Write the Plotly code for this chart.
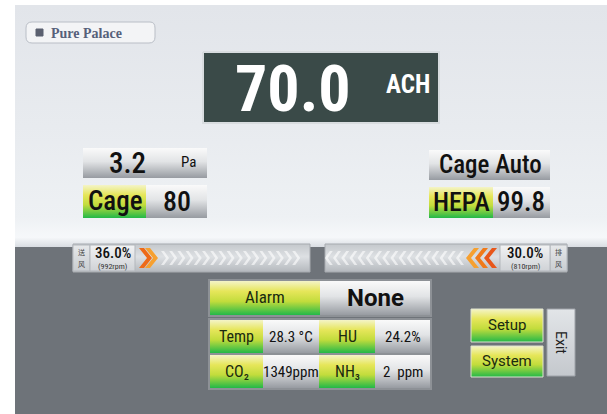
import plotly.graph_objects as go

# ---------------- data ----------------
brand = "Pure Palace"
ach_value = 70.0
ach_unit = "ACH"
pressure_value = 3.2
pressure_unit = "Pa"
cage_label = "Cage"
cage_value = 80
mode_label = "Cage Auto"
hepa_label = "HEPA"
hepa_value = 99.8
fan_side_labels = [["送", "风"], ["排", "风"]]
fan_percent = [36.0, 30.0]
fan_rpm = [992, 810]
alarm_label = "Alarm"
alarm_value = "None"
sensor_labels = ["Temp", "HU", "CO₂", "NH₃"]
sensor_values = ["28.3", "24.2", "1349", "2"]
sensor_units = [" °C", "%", "ppm", "  ppm"]
button_labels = ["Setup", "System", "Exit"]

COND = "Roboto Condensed, Liberation Sans Narrow, DejaVu Sans Condensed, Roboto, sans-serif"
ROUND = "Roboto, DejaVu Sans, sans-serif"
fig = go.Figure()

GREEN = [[0, '#f4f4c8'], [0.3, '#e6e65a'], [0.6, '#c2dc3c'], [1, '#22b848']]
GRAY = [[0, '#fafafa'], [0.45, '#e2e4e6'], [1, '#979ba1']]
BAR = [[0, '#c4c8cc'], [0.45, '#dde0e3'], [1, '#b4b8bd']]


def grad_box(x0, y0, x1, y1, scale, line=None, lw=1):
    fig.add_trace(go.Scatter(
        x=[x0, x1, x1, x0, x0], y=[y0, y0, y1, y1, y0], mode='lines', fill='toself',
        line=dict(width=lw if line else 0, color=line or 'rgba(0,0,0,0)'),
        fillgradient=dict(type='vertical', colorscale=scale, start=y0, stop=y1),
        hoverinfo='skip', showlegend=False))


def solid_box(x0, y0, x1, y1, fill, line=None, lw=1):
    fig.add_trace(go.Scatter(
        x=[x0, x1, x1, x0, x0], y=[y0, y0, y1, y1, y0], mode='lines', fill='toself',
        fillcolor=fill, line=dict(width=lw if line else 0, color=line or 'rgba(0,0,0,0)'),
        hoverinfo='skip', showlegend=False))


def txt(x, y, s, size, color='#111', family=COND, xa='center', ya='middle', angle=0, weight='normal'):
    fig.add_annotation(x=x, y=y, text=s, showarrow=False, xanchor=xa, yanchor=ya,
                       textangle=angle, font=dict(size=size, color=color, family=family, weight=weight))


# backgrounds
grad_box(15, 5, 607, 247, [[0, '#e2e5ea'], [0.5, '#e8ebef'], [0.88, '#eef1f4'],
                           [0.96, '#f6f8fa'], [1, '#d9dde2']])
solid_box(15, 247, 607, 414, '#6e7379')

# brand tab
fig.add_shape(type='path',
              path='M 32 22 L 150 22 Q 155 22 155 28 L 155 37 Q 155 43 149 43 L 32 43 Q 26 43 26 37 L 26 28 Q 26 22 32 22 Z',
              fillcolor='#f3f4f6', line=dict(color='#b9bec6', width=1))
fig.add_shape(type='rect', x0=36, y0=29, x1=43, y1=36, fillcolor='#5b6070', line=dict(color='#5b6070', width=1))
txt(49, 33, brand, 14, '#56607a', 'Liberation Serif, DejaVu Serif, serif', xa='left', weight='bold')

# ACH display
solid_box(203, 52, 439, 123, '#3a4a48', '#d8dcdf', 2)
txt(293, 89, f"{ach_value:.1f}", 64, 'white', COND, weight='bold')
txt(408, 84, ach_unit, 25, 'white', COND, weight='bold')

# pressure box
grad_box(83, 148, 207, 178, GRAY)
txt(127, 163, f"{pressure_value}", 29, '#111', COND, weight=500)
txt(188, 162, pressure_unit, 15, '#111', COND)

# cage box
grad_box(83, 185, 146, 218, GREEN)
grad_box(146, 185, 207, 218, GRAY)
txt(115, 201, cage_label, 27, '#111', COND, weight=500)
txt(177, 201, f"{cage_value}", 28, '#111', COND, weight=500)

# mode box
grad_box(429, 150, 550, 180, GRAY)
txt(490, 164, mode_label, 25, '#111', COND, weight=500)

# HEPA box
grad_box(429, 187, 493, 218, GREEN)
grad_box(493, 187, 550, 218, GRAY)
txt(461, 202, hepa_label, 26, '#111', COND, weight=500)
txt(521, 202, f"{hepa_value}", 27, '#111', COND, weight=500)


# fan bars
def chevron(x, yc, w, h, t, color, direction=1):
    if direction == 1:
        pts = [(x, yc - h), (x + t, yc - h), (x + t + w, yc), (x + t, yc + h), (x, yc + h), (x + w, yc)]
    else:
        pts = [(x, yc - h), (x - t, yc - h), (x - t - w, yc), (x - t, yc + h), (x, yc + h), (x - w, yc)]
    p = 'M ' + ' L '.join(f'{a} {b}' for a, b in pts) + ' Z'
    fig.add_shape(type='path', path=p, fillcolor=color, line=dict(width=0))


fan_specs = [dict(x0=73, x1=310, lab=(73, 90), pct=(90, 135), arr=(135, 310), d=1),
             dict(x0=325, x1=567, lab=(550, 567), pct=(500, 550), arr=(325, 500), d=-1)]
for i, s in enumerate(fan_specs):
    grad_box(s['x0'], 244, s['x1'], 272, BAR, '#a7abb0')
    grad_box(s['lab'][0], 245, s['lab'][1], 271, [[0, '#e6e8ea'], [1, '#c9cdd1']], '#b3b7bc')
    grad_box(s['pct'][0], 245, s['pct'][1], 271, [[0, '#f2f3f4'], [1, '#cfd2d6']], '#b3b7bc')
    lc = sum(s['lab']) / 2
    txt(lc, 252, fan_side_labels[i][0], 7, '#444', 'Noto Sans CJK SC')
    txt(lc, 264, fan_side_labels[i][1], 7, '#444', 'Noto Sans CJK SC')
    txt(sum(s['pct']) / 2, 253, f"{fan_percent[i]:.1f}%", 15, '#111', COND, weight=500)
    txt(sum(s['pct']) / 2, 266, f"({fan_rpm[i]}rpm)", 8, '#333', COND)
    a0, a1 = s['arr']
    if s['d'] == 1:
        for k in range(17):
            chevron(a0 + 26 + k * 8.2, 258, 5, 7, 3, 'rgba(255,255,255,0.6)', 1)
        chevron(a0 + 4, 258, 8, 10, 5, '#ee6a18', 1)
        chevron(a0 + 10, 258, 8, 10, 5, '#f6a030', 1)
    else:
        for k in range(17):
            chevron(a1 - 36 - k * 8.2, 258, 5, 7, 3, 'rgba(255,255,255,0.6)', -1)
        chevron(a1 - 3, 258, 8, 10, 5, '#e8561a', -1)
        chevron(a1 - 12, 258, 8, 10, 5, '#f07a1a', -1)
        chevron(a1 - 21, 258, 8, 10, 5, '#f6a030', -1)

# alarm panel
solid_box(208, 279, 432, 317, 'rgba(255,255,255,0.22)')
grad_box(210, 281, 320, 315, GREEN)
grad_box(320, 281, 430, 315, GRAY)
txt(265, 297, alarm_label, 17, '#1a2a10', COND)
txt(375, 298, alarm_value, 24, '#111', ROUND, weight='bold')

solid_box(208, 318, 432, 390, 'rgba(255,255,255,0.22)')
cols = [(210, 263), (263, 319), (319, 375), (375, 430)]
rows = [(320, 353), (355, 388)]
for r in range(2):
    y0, y1 = rows[r]
    for c in range(2):
        idx = r * 2 + c
        lx0, lx1 = cols[c * 2]
        vx0, vx1 = cols[c * 2 + 1]
        grad_box(lx0, y0, lx1, y1, GREEN)
        grad_box(vx0, y0, vx1, y1, GRAY)
        txt((lx0 + lx1) / 2, (y0 + y1) / 2, sensor_labels[idx], 16, '#1a2a10', COND)
        txt((vx0 + vx1) / 2, (y0 + y1) / 2, sensor_values[idx] + sensor_units[idx], 15, '#111', COND)

# buttons
grad_box(471, 309, 543, 342, GREEN, '#dfe3d0')
grad_box(471, 346, 543, 377, GREEN, '#dfe3d0')
txt(507, 325, button_labels[0], 15, '#1a2a10', ROUND)
txt(507, 361, button_labels[1], 15, '#1a2a10', ROUND)
grad_box(547, 309, 575, 376, [[0, '#e2e5e8'], [1, '#c4c8cd']], '#9ea3a9')
txt(561, 342, button_labels[2], 14, '#222', ROUND, angle=90)

fig.update_layout(
    width=607, height=414, margin=dict(l=0, r=0, t=0, b=0),
    paper_bgcolor='white', plot_bgcolor='white', showlegend=False,
    xaxis=dict(range=[0, 607], visible=False, fixedrange=True),
    yaxis=dict(range=[414, 0], visible=False, fixedrange=True),
)
fig.write_html("out.html", config={'displayModeBar': False},
               post_script="document.body.style.margin='0px';")
